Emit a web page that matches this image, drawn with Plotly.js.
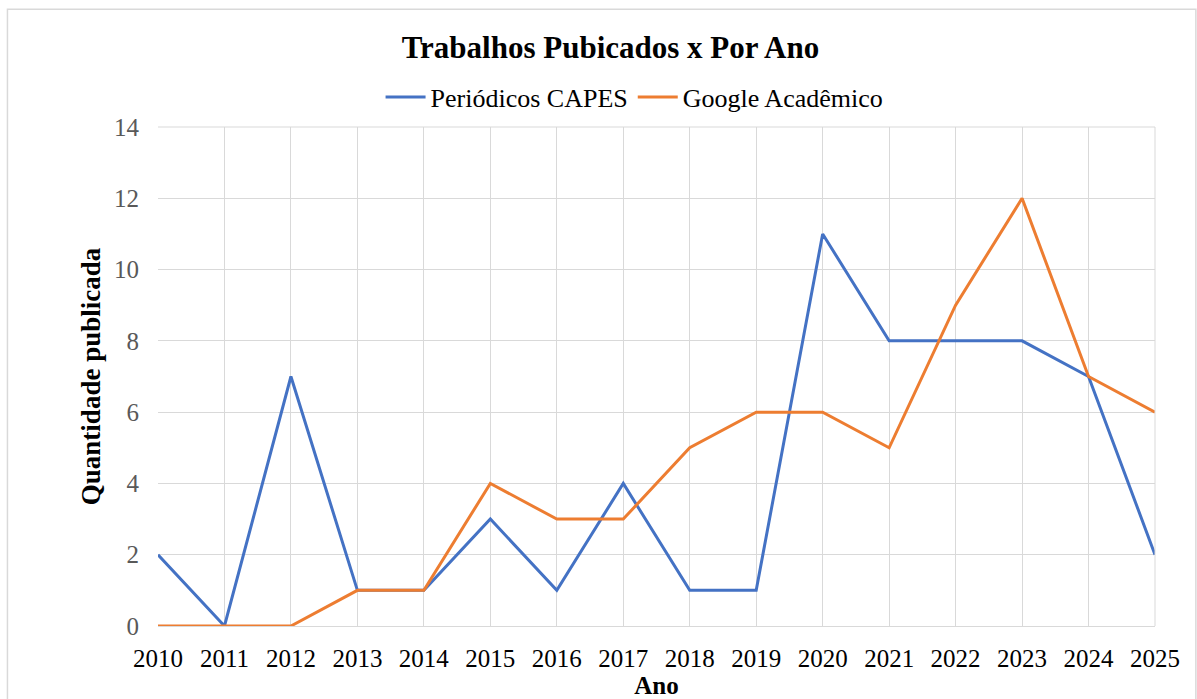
<!DOCTYPE html>
<html>
<head>
<meta charset="utf-8">
<script src="https://cdn.plot.ly/plotly-3.0.1.min.js"></script>
<style>html,body{margin:0;padding:0;background:#fff;}#chart{width:1197px;height:699px;}</style>
</head>
<body>
<div id="chart"></div>
<script>
const years = ["2010","2011","2012","2013","2014","2015","2016","2017","2018","2019","2020","2021","2022","2023","2024","2025"];
const capes = [2,0,7,1,1,3,1,4,1,1,11,8,8,8,7,2];
const google = [0,0,0,1,1,4,3,3,5,6,6,5,9,12,7,6];
const yTicks = [0,2,4,6,8,10,12,14];

const serif = "Liberation Serif, Times New Roman, serif";

const traces = [
  {x: years, y: capes, name: "Periódicos CAPES", type: "scatter", mode: "lines",
   line: {color: "#4472C4", width: 3}},
  {x: years, y: google, name: "Google Acadêmico", type: "scatter", mode: "lines",
   line: {color: "#ED7D31", width: 3}}
];

const layout = {
  width: 1197, height: 699,
  margin: {l: 158, r: 42, t: 127, b: 73},
  paper_bgcolor: "#fff", plot_bgcolor: "#fff",
  title: {text: "<b>Trabalhos Pubicados x Por Ano</b>", font: {family: serif, size: 31, color: "#000"},
          x: 0.51, xref: "container", xanchor: "center", y: 0.933, yref: "container", yanchor: "middle"},
  showlegend: true,
  legend: {orientation: "h", x: 0.478, xanchor: "center", y: 1.06, yanchor: "middle",
           font: {family: serif, size: 26, color: "#000"}, itemwidth: 40, tracegroupgap: 0},
  xaxis: {type: "category", range: [0, 15], showgrid: true, gridcolor: "#d9d9d9", gridwidth: 1,
          showline: true, linecolor: "#d9d9d9", linewidth: 1, mirror: false, zeroline: false,
          ticks: "", ticklabelstandoff: 10, tickfont: {family: serif, size: 25, color: "#000"},
          title: {text: "<b>Ano</b>", font: {family: serif, size: 25, color: "#000"}, standoff: 7}},
  yaxis: {range: [0, 14], tickvals: yTicks, showgrid: true, gridcolor: "#d9d9d9", gridwidth: 1,
          zeroline: false, showline: false, ticks: "", ticklen: 0, ticklabelstandoff: 18,
          tickfont: {family: serif, size: 25, color: "#595959"},
          title: {text: "<b>Quantidade publicada</b>", font: {family: serif, size: 27, color: "#000"}, standoff: 5}},
  shapes: [
    {type: "line", xref: "paper", yref: "paper", x0: 0, x1: 1, y0: 1, y1: 1, line: {color: "#d9d9d9", width: 1}},
    {type: "line", xref: "paper", yref: "paper", x0: 1, x1: 1, y0: 0, y1: 1, line: {color: "#d9d9d9", width: 1}},
    {type: "rect", xref: "paper", yref: "paper", x0: -0.151, x1: 1.041, y0: -0.2, y1: 1.236,
     line: {color: "#d9d9d9", width: 1.5}, layer: "below"}
  ]
};

Plotly.newPlot("chart", traces, layout, {displayModeBar: false, staticPlot: true});
</script>
</body>
</html>
